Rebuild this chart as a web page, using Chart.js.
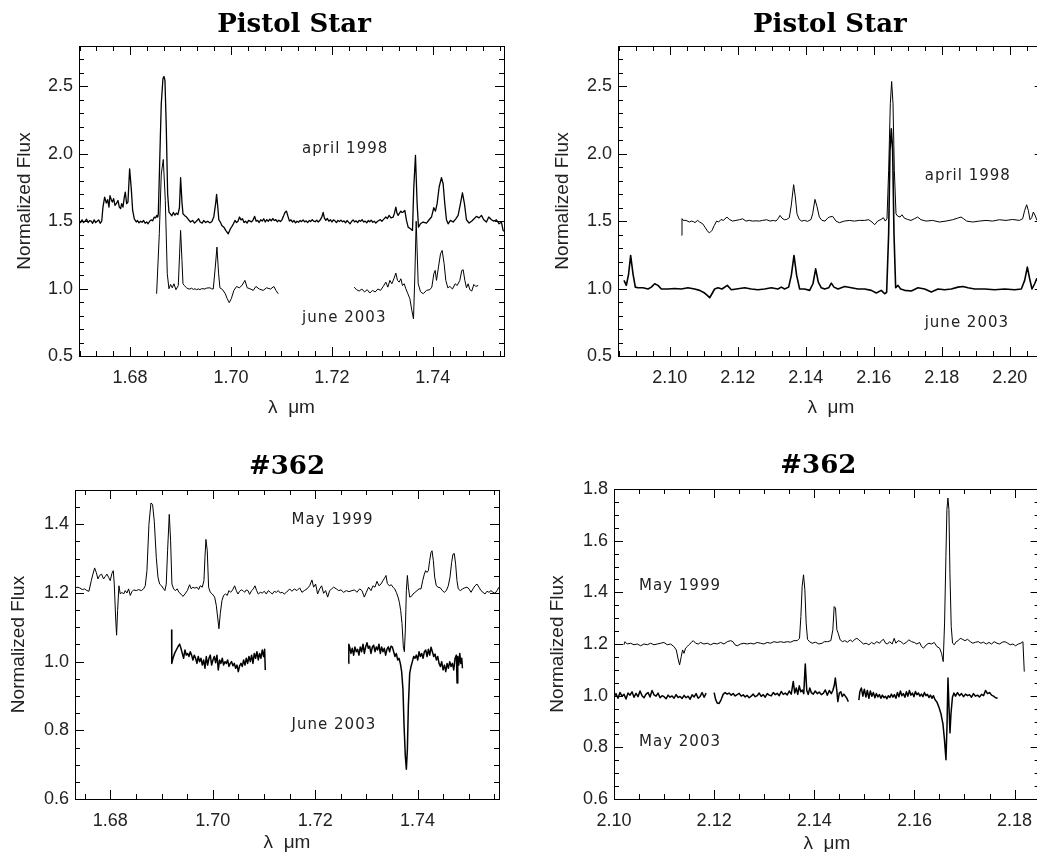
<!DOCTYPE html>
<html>
<head>
<meta charset="utf-8">
<title>Pistol Star and #362 spectra</title>
<script src="https://cdn.jsdelivr.net/npm/chart.js@4.4.1/dist/chart.umd.min.js"></script>
<style>
  html, body { margin: 0; padding: 0; background: #fff; overflow: hidden; }
  body { width: 1037px; height: 852px; position: relative; }
  canvas { position: absolute; }
</style>
</head>
<body>
<canvas id="pistolH" width="518" height="430" style="left:0;top:0"></canvas>
<canvas id="pistolK" width="540" height="430" style="left:518px;top:0"></canvas>
<canvas id="star362H" width="518" height="430" style="left:0;top:430px"></canvas>
<canvas id="star362K" width="540" height="430" style="left:518px;top:430px"></canvas>
<script>
// ---- spectra: [wavelength (micron), normalized flux]; [x, null] breaks a line ----

// Pistol Star, H band, april 1998 (offset by +0.5)
const pistolH_apr1998 = [
  [1.6699,1.500],[1.6702,1.490],[1.6705,1.510],[1.6708,1.490],[1.6711,1.500],[1.6714,1.515],[1.6717,1.490],
  [1.6720,1.505],[1.6723,1.500],[1.6726,1.485],[1.6729,1.510],[1.6732,1.490],[1.6735,1.500],[1.6738,1.510],
  [1.6741,1.485],[1.6744,1.500],[1.67465,1.605],[1.67498,1.679],[1.67531,1.635],[1.67558,1.660],[1.67584,1.605],
  [1.67604,1.690],[1.6763,1.660],[1.6765,1.642],[1.67676,1.667],[1.67703,1.618],[1.67729,1.630],[1.67762,1.654],
  [1.67789,1.605],[1.67815,1.593],[1.67835,1.630],[1.67861,1.605],[1.67888,1.679],[1.67907,1.716],[1.67934,1.630],
  [1.6796,1.642],[1.67993,1.889],[1.68026,1.740],[1.68053,1.580],[1.68086,1.518],[1.68125,1.494],[1.6815,1.505],
  [1.6818,1.488],[1.6821,1.500],[1.6824,1.492],[1.6827,1.505],[1.6830,1.485],[1.6833,1.495],[1.6836,1.481],
  [1.6839,1.500],[1.6842,1.510],[1.6845,1.503],[1.6848,1.530],[1.6851,1.525],[1.6853,1.543],[1.6855,1.530],
  [1.68561,1.555],[1.68581,1.827],[1.68600,2.100],[1.6862,2.371],[1.68653,2.557],[1.68673,2.574],[1.68693,2.545],
  [1.68719,2.198],[1.68746,1.704],[1.68772,1.568],[1.6880,1.555],[1.6883,1.540],[1.6886,1.565],[1.6889,1.545],
  [1.6892,1.560],[1.6895,1.550],[1.6898,1.600],[1.69003,1.823],[1.6903,1.640],[1.6905,1.555],[1.6908,1.543],
  [1.6912,1.531],[1.6916,1.511],[1.6920,1.494],[1.6924,1.506],[1.6928,1.486],[1.6932,1.501],[1.6936,1.518],
  [1.6939,1.494],[1.6943,1.486],[1.6946,1.505],[1.6950,1.490],[1.6954,1.500],[1.6958,1.488],[1.6962,1.496],
  [1.6966,1.531],[1.6970,1.640],[1.69716,1.699],[1.6974,1.605],[1.6976,1.511],[1.6979,1.494],[1.6982,1.469],
  [1.6986,1.456],[1.6990,1.430],[1.69947,1.407],[1.6999,1.444],[1.7002,1.462],[1.7005,1.481],[1.7008,1.506],
  [1.7011,1.490],[1.7014,1.500],[1.7017,1.531],[1.7020,1.510],[1.7023,1.518],[1.7026,1.490],[1.7029,1.500],
  [1.7032,1.486],[1.7035,1.506],[1.7038,1.501],[1.7041,1.495],[1.7044,1.510],[1.7047,1.536],[1.7050,1.500],
  [1.7053,1.506],[1.7056,1.490],[1.7059,1.511],[1.7062,1.501],[1.7065,1.518],[1.7068,1.494],[1.7071,1.512],
  [1.7074,1.499],[1.7077,1.515],[1.7080,1.503],[1.7083,1.520],[1.7086,1.505],[1.7089,1.512],[1.7092,1.496],
  [1.7095,1.508],[1.7098,1.498],[1.7101,1.510],[1.7104,1.536],[1.7107,1.565],[1.7110,1.575],[1.7113,1.536],
  [1.7116,1.501],[1.7119,1.510],[1.7122,1.494],[1.7125,1.505],[1.7128,1.488],[1.7131,1.500],[1.7134,1.492],
  [1.7137,1.506],[1.7140,1.497],[1.7143,1.510],[1.7146,1.495],[1.7149,1.503],[1.7152,1.490],[1.7155,1.505],
  [1.7158,1.498],[1.7161,1.512],[1.7164,1.500],[1.7167,1.496],[1.7170,1.508],[1.7173,1.494],[1.7176,1.505],
  [1.7180,1.530],[1.71828,1.565],[1.7185,1.525],[1.7188,1.506],[1.7191,1.520],[1.7194,1.500],[1.7197,1.512],
  [1.7200,1.494],[1.7203,1.510],[1.7206,1.503],[1.7209,1.490],[1.7212,1.506],[1.7215,1.498],[1.7218,1.508],
  [1.7221,1.496],[1.7224,1.502],[1.7227,1.488],[1.7230,1.505],[1.7233,1.493],[1.7236,1.481],[1.7239,1.498],
  [1.7242,1.510],[1.7245,1.495],[1.7248,1.503],[1.7251,1.490],[1.7254,1.506],[1.7257,1.500],[1.7260,1.512],
  [1.7263,1.494],[1.7266,1.501],[1.7269,1.488],[1.7272,1.505],[1.7275,1.496],[1.7278,1.508],[1.7281,1.492],
  [1.7284,1.500],[1.7287,1.486],[1.7290,1.498],[1.7293,1.505],[1.7296,1.512],[1.7299,1.500],[1.7302,1.512],
  [1.73069,1.531],[1.7310,1.520],[1.73135,1.543],[1.7317,1.525],[1.73214,1.531],[1.7324,1.560],[1.73267,1.605],
  [1.7329,1.560],[1.73313,1.543],[1.7334,1.560],[1.73366,1.575],[1.7339,1.565],[1.73412,1.568],[1.73445,1.580],
  [1.73478,1.506],[1.73511,1.456],[1.73557,1.444],[1.73597,1.432],[1.73623,1.754],[1.73656,1.988],[1.73689,1.630],
  [1.73716,1.456],[1.73755,1.481],[1.73808,1.494],[1.73874,1.486],[1.73927,1.511],[1.73973,1.531],[1.74019,1.600],
  [1.74052,1.575],[1.74085,1.630],[1.74125,1.754],[1.74171,1.823],[1.74204,1.778],[1.74237,1.630],[1.7427,1.511],
  [1.74303,1.481],[1.74349,1.506],[1.74402,1.494],[1.74455,1.518],[1.74501,1.543],[1.74547,1.630],[1.74587,1.711],
  [1.74626,1.630],[1.74666,1.511],[1.74719,1.486],[1.74772,1.501],[1.74818,1.518],[1.74864,1.536],[1.74917,1.525],
  [1.74963,1.543],[1.75009,1.511],[1.75062,1.494],[1.75108,1.531],[1.75161,1.511],[1.75207,1.501],[1.7526,1.511],
  [1.75313,1.481],[1.75359,1.494],[1.75392,1.432],[1.7541,1.425]
];

// Pistol Star, H band, june 2003 (two pieces)
const pistolH_jun2003 = [
  [1.68528,0.962],[1.68581,1.407],[1.6862,1.850],[1.6866,1.958],[1.6870,1.654],[1.68739,1.110],[1.68772,0.999],
  [1.68805,1.031],[1.68838,1.006],[1.68871,1.036],[1.68911,0.992],[1.68957,1.023],[1.68983,1.258],[1.69003,1.432],
  [1.6903,1.209],[1.6905,1.036],[1.69076,1.023],[1.69122,1.006],[1.6915,0.999],[1.69188,0.997],[1.6922,1.003],
  [1.69255,0.994],[1.69287,0.999],[1.6932,0.992],[1.69355,0.998],[1.69386,0.992],[1.6942,1.000],[1.69485,0.997],
  [1.6952,1.004],[1.69584,1.006],[1.6962,0.998],[1.6965,0.997],[1.6969,1.160],[1.69723,1.308],[1.69756,1.110],
  [1.69782,1.006],[1.69835,0.992],[1.69888,0.962],[1.69927,0.925],[1.69967,0.896],[1.70007,0.925],[1.70059,0.987],
  [1.70112,1.016],[1.70165,1.006],[1.70218,1.023],[1.70277,1.061],[1.70323,1.006],[1.70376,0.999],[1.70442,0.987],
  [1.70495,1.016],[1.70561,0.997],[1.7064,0.987],[1.70706,1.006],[1.70785,0.997],[1.70851,1.016],[1.70891,0.987],
  [1.70937,0.962],
  [1.7170,null],
  [1.72442,1.011],[1.72488,0.992],[1.72541,0.982],[1.72594,0.997],[1.72647,0.975],[1.7270,0.992],[1.72752,0.967],
  [1.72805,0.987],[1.72858,0.975],[1.72911,0.997],[1.72964,0.987],[1.73017,1.016],[1.73069,1.048],[1.73109,1.011],
  [1.73149,1.061],[1.73188,1.036],[1.73228,1.073],[1.73267,1.115],[1.7330,1.061],[1.73333,1.048],[1.73366,1.073],
  [1.73399,1.023],[1.73432,1.036],[1.73465,0.999],[1.73505,0.962],[1.73545,0.925],[1.73584,0.838],[1.73617,0.776],
  [1.73644,1.100],[1.7367,1.500],[1.7371,1.036],[1.73756,0.977],[1.73809,0.962],[1.73875,0.987],[1.73941,0.992],
  [1.7398,1.011],[1.7402,1.110],[1.74046,1.135],[1.74073,1.061],[1.74112,1.160],[1.74152,1.258],[1.74185,1.283],
  [1.74224,1.184],[1.74257,1.061],[1.74297,1.006],[1.74337,1.016],[1.7439,0.997],[1.74442,1.036],[1.74482,1.023],
  [1.74535,1.061],[1.74574,1.135],[1.74601,1.140],[1.74634,1.061],[1.74667,1.006],[1.7470,1.036],[1.74733,0.992],
  [1.74772,0.982],[1.74812,1.031],[1.74851,1.016],[1.74898,1.023]
];

// Pistol Star, K band, april 1998 (offset by +0.5)
const pistolK_apr1998 = [
  [2.10352,1.395],[2.10362,1.519],[2.1040,1.506],[2.10479,1.506],[2.10577,1.494],[2.10636,1.501],[2.10695,1.497],
  [2.10744,1.490],[2.10822,1.506],[2.1088,1.494],[2.1097,1.481],[2.11048,1.452],[2.11117,1.424],[2.11175,1.414],
  [2.11244,1.432],[2.11313,1.469],[2.11381,1.501],[2.1144,1.494],[2.11509,1.513],[2.11577,1.506],[2.11685,1.531],
  [2.11754,1.513],[2.11852,1.501],[2.1195,1.506],[2.12048,1.511],[2.12146,1.518],[2.12244,1.501],[2.12342,1.506],
  [2.1244,1.501],[2.12538,1.503],[2.12636,1.501],[2.12734,1.506],[2.12852,1.511],[2.1295,1.501],[2.13048,1.506],
  [2.13126,1.501],[2.13185,1.518],[2.13244,1.543],[2.13303,1.523],[2.13371,1.511],[2.1344,1.513],[2.13518,1.526],
  [2.13577,1.620],[2.13646,1.771],[2.13695,1.680],[2.13744,1.555],[2.13813,1.513],[2.13881,1.501],[2.1396,1.506],
  [2.14058,1.499],[2.14156,1.513],[2.14205,1.555],[2.14273,1.662],[2.14332,1.610],[2.14401,1.531],[2.1448,1.506],
  [2.14568,1.501],[2.14646,1.523],[2.14695,1.531],[2.14793,1.536],[2.14891,1.501],[2.14989,1.489],[2.15136,1.501],
  [2.15283,1.506],[2.1543,1.501],[2.15577,1.506],[2.15724,1.506],[2.15852,1.511],[2.1595,1.494],[2.16028,1.474],
  [2.16117,1.501],[2.16215,1.513],[2.16283,1.526],[2.16342,1.501],[2.16391,1.518],[2.1644,1.877],[2.16489,2.371],
  [2.16528,2.537],[2.16568,2.371],[2.16607,1.877],[2.16656,1.555],[2.16705,1.538],[2.16774,1.531],[2.16833,1.548],
  [2.16901,1.523],[2.16999,1.513],[2.17097,1.506],[2.17195,1.518],[2.17293,1.531],[2.17391,1.511],[2.17538,1.501],
  [2.17734,1.506],[2.1793,1.494],[2.18126,1.501],[2.18322,1.511],[2.18469,1.523],[2.18568,1.531],[2.18646,1.518],
  [2.18734,1.501],[2.18911,1.494],[2.19107,1.501],[2.19303,1.506],[2.19499,1.501],[2.19695,1.511],[2.19891,1.506],
  [2.20087,1.513],[2.20283,1.506],[2.20381,1.518],[2.2044,1.580],[2.20499,1.622],[2.20548,1.580],[2.20597,1.511],
  [2.20646,1.526],[2.20695,1.568],[2.20744,1.545],[2.20803,1.506],[2.2090,1.503],[2.2100,1.508]
];

// Pistol Star, K band, june 2003
const pistolK_jun2003 = [
  [2.08656,1.061],[2.08725,1.024],[2.08793,1.110],[2.08852,1.246],[2.08921,1.110],[2.08989,1.011],[2.09068,1.006],
  [2.09215,1.006],[2.09362,0.997],[2.0946,1.011],[2.09558,1.036],[2.09656,1.024],[2.09754,0.997],[2.0995,0.997],
  [2.10146,1.001],[2.10342,0.997],[2.10538,1.006],[2.10734,0.997],[2.10881,0.987],[2.11028,0.967],[2.11107,0.950],
  [2.11175,0.932],[2.11244,0.962],[2.11322,0.997],[2.1142,1.006],[2.11538,0.997],[2.11695,1.024],[2.11813,0.992],
  [2.1196,0.997],[2.12205,1.006],[2.12401,0.997],[2.12597,0.992],[2.12793,0.997],[2.12989,1.006],[2.13185,0.997],
  [2.13283,1.011],[2.13381,0.997],[2.13499,1.011],[2.13577,1.098],[2.13656,1.246],[2.13734,1.098],[2.13822,0.997],
  [2.13969,0.997],[2.14116,0.987],[2.14214,1.036],[2.14293,1.147],[2.14371,1.048],[2.1446,1.006],[2.14558,0.997],
  [2.14675,1.006],[2.14754,1.041],[2.14832,1.011],[2.1495,0.997],[2.15146,1.016],[2.15342,1.006],[2.15538,0.997],
  [2.15734,0.997],[2.1593,0.987],[2.16077,0.967],[2.16224,0.987],[2.16322,0.962],[2.16381,0.972],[2.1644,1.407],
  [2.16479,2.025],[2.16518,2.186],[2.16558,2.025],[2.16597,1.407],[2.16646,1.006],[2.16715,1.024],[2.16793,0.997],
  [2.16911,0.987],[2.17107,0.982],[2.17303,1.006],[2.17499,0.997],[2.17695,0.975],[2.17891,0.997],[2.18087,0.992],
  [2.18283,0.997],[2.18479,1.011],[2.18626,1.016],[2.18773,1.006],[2.18969,0.997],[2.19264,0.997],[2.19558,0.992],
  [2.19852,0.997],[2.20146,0.992],[2.20342,0.997],[2.2044,1.061],[2.20519,1.160],[2.20587,1.073],[2.20656,0.997],
  [2.20734,1.036],[2.20793,1.073],[2.2090,1.020],[2.2100,1.005]
];

// #362, H band, May 1999 (offset by +0.2)
const star362H_may1999 = [
  [1.67302,1.212],[1.67347,1.217],[1.6740,1.215],[1.67452,1.210],[1.67497,1.212],[1.67543,1.207],[1.67582,1.205],
  [1.67628,1.236],[1.6766,1.255],[1.67693,1.273],[1.67725,1.260],[1.67758,1.241],[1.6779,1.251],[1.67829,1.255],
  [1.67868,1.241],[1.67901,1.248],[1.67933,1.255],[1.67966,1.246],[1.67998,1.236],[1.68031,1.257],[1.68057,1.265],
  [1.68077,1.226],[1.68103,1.130],[1.68122,1.077],[1.68142,1.149],[1.68168,1.221],[1.68194,1.197],[1.68226,1.202],
  [1.68259,1.197],[1.68291,1.207],[1.68324,1.200],[1.68357,1.212],[1.68389,1.193],[1.68422,1.204],[1.68454,1.209],
  [1.68506,1.207],[1.68552,1.210],[1.68604,1.207],[1.68649,1.212],[1.68682,1.221],[1.68715,1.265],[1.68754,1.400],
  [1.68793,1.462],[1.68825,1.458],[1.68858,1.409],[1.68897,1.304],[1.6893,1.246],[1.68962,1.226],[1.69001,1.221],
  [1.6904,1.212],[1.69066,1.207],[1.69092,1.226],[1.69118,1.323],[1.69151,1.429],[1.69177,1.352],[1.69203,1.226],
  [1.69236,1.212],[1.69268,1.207],[1.69307,1.212],[1.6934,1.202],[1.69385,1.196],[1.69418,1.190],[1.69457,1.197],
  [1.69503,1.207],[1.69548,1.224],[1.69581,1.212],[1.69613,1.217],[1.69652,1.214],[1.69691,1.217],[1.69724,1.210],
  [1.69756,1.221],[1.69795,1.217],[1.69828,1.236],[1.69848,1.304],[1.69867,1.356],[1.69893,1.323],[1.69919,1.217],
  [1.69952,1.202],[1.69991,1.197],[1.70037,1.188],[1.70069,1.164],[1.70095,1.130],[1.70121,1.096],[1.70147,1.140],
  [1.7018,1.178],[1.70212,1.193],[1.70251,1.197],[1.70284,1.193],[1.70316,1.207],[1.70349,1.202],[1.70388,1.209],
  [1.70427,1.221],[1.7046,1.207],[1.70492,1.197],[1.70525,1.205],[1.70558,1.209],[1.7059,1.207],[1.70623,1.202],
  [1.70655,1.209],[1.70688,1.207],[1.7072,1.196],[1.7076,1.207],[1.70792,1.212],[1.70825,1.221],[1.70857,1.207],
  [1.7089,1.197],[1.70929,1.202],[1.70968,1.200],[1.71007,1.205],[1.71046,1.197],[1.71085,1.207],[1.71124,1.202],
  [1.71163,1.197],[1.71202,1.205],[1.71241,1.202],[1.7128,1.207],[1.71319,1.200],[1.71358,1.202],[1.71397,1.197],
  [1.71436,1.202],[1.71475,1.207],[1.71501,1.212],[1.71547,1.205],[1.71592,1.212],[1.71644,1.207],[1.71697,1.215],
  [1.71742,1.202],[1.71788,1.207],[1.7184,1.212],[1.71892,1.221],[1.71937,1.238],[1.7197,1.217],[1.72009,1.226],
  [1.72048,1.197],[1.72087,1.212],[1.72126,1.221],[1.72165,1.199],[1.72204,1.207],[1.72244,1.188],[1.72283,1.207],
  [1.72322,1.212],[1.72361,1.217],[1.72413,1.212],[1.72458,1.207],[1.72504,1.209],[1.72556,1.202],[1.72608,1.207],
  [1.7266,1.204],[1.72719,1.207],[1.72771,1.209],[1.72816,1.202],[1.72868,1.212],[1.72914,1.207],[1.7296,1.188],
  [1.72999,1.202],[1.73044,1.217],[1.7309,1.207],[1.73129,1.221],[1.73168,1.217],[1.73207,1.234],[1.73246,1.221],
  [1.73285,1.226],[1.73324,1.236],[1.73357,1.244],[1.73383,1.251],[1.73409,1.228],[1.73448,1.221],[1.73487,1.224],
  [1.7352,1.217],[1.73553,1.212],[1.73585,1.202],[1.73618,1.188],[1.73644,1.173],[1.7367,1.149],[1.73696,1.111],
  [1.73722,1.043],[1.73742,1.029],[1.73761,1.092],[1.73781,1.207],[1.73801,1.251],[1.7382,1.217],[1.73846,1.188],
  [1.73879,1.190],[1.73911,1.197],[1.7395,1.202],[1.73989,1.207],[1.74028,1.212],[1.74067,1.212],[1.7410,1.236],
  [1.74132,1.255],[1.74158,1.265],[1.74184,1.260],[1.7421,1.265],[1.74236,1.294],[1.74262,1.318],[1.74282,1.323],
  [1.74308,1.294],[1.74334,1.246],[1.74366,1.221],[1.74399,1.217],[1.74444,1.215],[1.74483,1.207],[1.74522,1.202],
  [1.74561,1.207],[1.7460,1.221],[1.74633,1.246],[1.74665,1.289],[1.74691,1.313],[1.74717,1.315],[1.74743,1.284],
  [1.74769,1.236],[1.74795,1.212],[1.74834,1.207],[1.7488,1.212],[1.74919,1.215],[1.74965,1.217],[1.75004,1.212],
  [1.75043,1.202],[1.75082,1.212],[1.75121,1.221],[1.7516,1.226],[1.75199,1.217],[1.75238,1.207],[1.75277,1.202],
  [1.75316,1.197],[1.75355,1.205],[1.75395,1.202],[1.75434,1.207],[1.75473,1.202],[1.75512,1.199],[1.75551,1.207],
  [1.7559,1.217]
];

// #362, H band, June 2003 (two pieces)
const star362H_jun2003 = [
  [1.69197,1.092],[1.6920,0.995],[1.69223,1.010],[1.69255,1.024],[1.69288,1.034],[1.69327,1.045],[1.69353,1.051],
  [1.69379,1.039],[1.69405,1.024],[1.69431,1.010],[1.69457,1.034],[1.69483,1.019],[1.69509,1.024],[1.69535,1.015],
  [1.69561,1.029],[1.69587,1.019],[1.69613,1.005],[1.69639,1.019],[1.69665,1.010],[1.69691,0.995],[1.69717,1.015],
  [1.69743,1.000],[1.6977,1.010],[1.69796,0.990],[1.69822,1.005],[1.69848,0.981],[1.69874,1.015],[1.6990,0.990],
  [1.69926,1.010],[1.69952,1.019],[1.69978,0.990],[1.70004,1.005],[1.7003,1.015],[1.70056,0.997],[1.70082,1.019],
  [1.70108,0.976],[1.70134,1.005],[1.7016,0.995],[1.70186,1.010],[1.70212,0.990],[1.70238,1.000],[1.70264,0.995],
  [1.7029,1.005],[1.70316,0.986],[1.70342,0.995],[1.70368,1.000],[1.70395,0.988],[1.70421,0.995],[1.70447,0.981],
  [1.70473,0.990],[1.70499,0.971],[1.70525,0.988],[1.70551,0.995],[1.70577,0.986],[1.70603,1.005],[1.70629,0.990],
  [1.70655,1.010],[1.70681,0.995],[1.70707,1.015],[1.70733,1.000],[1.70759,1.019],[1.70785,0.995],[1.70811,1.024],
  [1.70837,1.010],[1.70863,1.029],[1.70889,1.005],[1.70915,1.024],[1.70941,1.010],[1.70967,1.034],[1.70993,1.015],
  [1.71013,1.036],[1.71026,0.976],
  [1.7180,null],
  [1.72654,0.995],[1.72657,1.051],[1.72673,1.043],[1.72699,1.024],[1.72725,1.039],[1.72751,1.019],[1.72777,1.043],
  [1.72803,1.029],[1.72829,1.036],[1.72855,1.019],[1.72881,1.043],[1.72908,1.029],[1.72934,1.051],[1.7296,1.024],
  [1.72986,1.043],[1.73012,1.055],[1.73038,1.039],[1.73064,1.045],[1.7309,1.024],[1.73116,1.042],[1.73142,1.048],
  [1.73168,1.029],[1.73194,1.043],[1.7322,1.034],[1.73246,1.051],[1.73272,1.024],[1.73298,1.043],[1.73324,1.029],
  [1.7335,1.039],[1.73376,1.019],[1.73402,1.036],[1.73428,1.043],[1.73454,1.029],[1.7348,1.045],[1.73507,1.043],
  [1.73533,1.029],[1.73559,1.015],[1.73585,1.024],[1.73611,1.005],[1.73637,1.010],[1.73663,0.995],[1.73689,0.971],
  [1.73715,0.918],[1.73734,0.822],[1.7376,0.726],[1.73781,0.687],[1.73801,0.745],[1.7382,0.870],[1.73846,0.966],
  [1.73872,0.986],[1.73898,1.000],[1.73924,1.015],[1.7395,1.010],[1.73976,1.019],[1.74003,1.005],[1.74029,1.029],
  [1.74055,1.015],[1.74081,1.024],[1.74107,1.010],[1.74133,1.029],[1.74159,1.034],[1.74185,1.015],[1.74211,1.036],
  [1.74237,1.019],[1.74263,1.042],[1.74289,1.029],[1.74315,1.015],[1.74341,1.022],[1.74367,1.005],[1.74393,1.015],
  [1.74419,0.995],[1.74445,0.986],[1.74471,1.000],[1.74498,0.976],[1.74524,0.990],[1.7455,0.971],[1.74576,0.995],
  [1.74602,0.981],[1.74628,1.000],[1.74654,0.986],[1.7468,0.995],[1.74706,0.976],[1.74732,1.010],[1.74758,1.019],
  [1.74771,0.938],[1.74785,1.015],[1.74804,0.990],[1.74824,1.024],[1.74843,0.995],[1.74863,1.010],[1.74876,0.981]
];

// #362, K band, May 1999 (offset by +0.2)
const star362K_may1999 = [
  [2.10199,1.197],[2.10219,1.209],[2.10265,1.200],[2.10332,1.203],[2.10399,1.197],[2.10465,1.200],[2.10532,1.193],
  [2.10598,1.200],[2.10665,1.197],[2.10731,1.203],[2.10798,1.197],[2.10864,1.200],[2.10931,1.203],[2.10997,1.206],
  [2.11064,1.197],[2.1113,1.200],[2.11197,1.190],[2.11244,1.177],[2.11277,1.145],[2.1131,1.119],[2.11343,1.151],
  [2.1137,1.177],[2.11397,1.164],[2.1143,1.184],[2.11463,1.190],[2.11496,1.197],[2.11543,1.206],[2.11583,1.213],
  [2.1163,1.203],[2.11683,1.200],[2.1173,1.206],[2.11796,1.200],[2.11863,1.203],[2.11929,1.197],[2.11996,1.203],
  [2.12062,1.200],[2.12129,1.206],[2.12196,1.200],[2.12262,1.209],[2.12329,1.213],[2.12375,1.209],[2.12415,1.197],
  [2.12461,1.193],[2.12528,1.200],[2.12594,1.203],[2.12661,1.200],[2.12727,1.203],[2.12794,1.200],[2.1286,1.206],
  [2.12927,1.203],[2.12993,1.200],[2.1306,1.206],[2.13126,1.203],[2.13193,1.209],[2.1326,1.206],[2.13326,1.209],
  [2.13393,1.206],[2.13459,1.209],[2.13526,1.207],[2.13592,1.213],[2.13659,1.213],[2.13705,1.222],[2.13732,1.306],
  [2.13758,1.423],[2.13785,1.468],[2.13812,1.410],[2.13838,1.281],[2.13865,1.218],[2.13905,1.209],[2.13958,1.203],
  [2.14024,1.207],[2.14091,1.200],[2.14157,1.203],[2.14198,1.209],[2.14265,1.209],[2.14331,1.213],[2.14371,1.255],
  [2.14397,1.345],[2.14424,1.339],[2.14451,1.255],[2.14477,1.242],[2.14517,1.216],[2.14564,1.209],[2.1461,1.213],
  [2.14663,1.207],[2.14717,1.216],[2.14763,1.209],[2.1481,1.218],[2.1485,1.222],[2.1489,1.216],[2.1493,1.209],
  [2.14983,1.200],[2.15036,1.203],[2.1509,1.197],[2.15143,1.206],[2.15196,1.200],[2.15249,1.209],[2.15303,1.203],
  [2.15343,1.213],[2.15383,1.218],[2.15423,1.203],[2.15463,1.200],[2.15503,1.209],[2.15556,1.200],[2.15596,1.222],
  [2.1563,1.203],[2.15676,1.213],[2.15729,1.209],[2.15783,1.200],[2.15836,1.206],[2.15889,1.216],[2.15943,1.209],
  [2.15996,1.206],[2.16049,1.200],[2.16103,1.206],[2.16143,1.190],[2.16183,1.184],[2.16236,1.197],[2.16289,1.203],
  [2.16342,1.200],[2.16396,1.206],[2.16449,1.190],[2.16502,1.184],[2.16542,1.164],[2.16575,1.132],[2.16602,1.281],
  [2.16629,1.539],[2.16649,1.720],[2.16669,1.765],[2.16689,1.720],[2.16709,1.474],[2.16735,1.268],[2.16762,1.203],
  [2.16795,1.197],[2.16835,1.209],[2.16875,1.213],[2.16915,1.222],[2.16962,1.218],[2.17009,1.213],[2.17062,1.218],
  [2.17115,1.209],[2.17168,1.203],[2.17222,1.207],[2.17275,1.209],[2.17328,1.203],[2.17381,1.207],[2.17435,1.200],
  [2.17488,1.206],[2.17541,1.200],[2.17594,1.209],[2.17648,1.203],[2.17701,1.200],[2.17754,1.207],[2.17808,1.209],
  [2.17861,1.203],[2.17914,1.197],[2.17967,1.200],[2.18021,1.193],[2.18074,1.200],[2.18127,1.203],[2.18167,1.209],
  [2.18194,1.093]
];

// #362, K band, May 2003 (three pieces)
const star362K_may2003 = [
  [2.1000,0.995],[2.1004,1.008],[2.1008,0.990],[2.1012,1.012],[2.1016,0.998],[2.1020,1.005],[2.1024,0.987],
  [2.1028,1.010],[2.1032,1.002],[2.1036,1.015],[2.1040,0.994],[2.1044,1.009],[2.1048,0.996],[2.1052,1.018],
  [2.1056,1.000],[2.1060,0.992],[2.1064,1.006],[2.1068,1.012],[2.1072,0.995],[2.1076,1.020],[2.1080,1.003],
  [2.1084,0.998],[2.1088,1.010],[2.1092,0.992],[2.1096,1.000],[2.1100,0.996],[2.1104,0.988],[2.1108,1.002],
  [2.1112,0.994],[2.1116,0.999],[2.1120,0.990],[2.1124,1.004],[2.1128,0.993],[2.1132,0.997],[2.1136,0.989],
  [2.1140,1.001],[2.1144,0.992],[2.1148,0.998],[2.1152,0.986],[2.1156,1.003],[2.1160,0.995],[2.1164,1.008],
  [2.1168,0.990],[2.1172,0.997],[2.1176,1.012],[2.1180,0.994],[2.1184,1.010],
  [2.1192,null],
  [2.1200,1.012],[2.1203,0.985],[2.1206,0.972],[2.1210,0.970],[2.1214,0.985],[2.1218,1.005],[2.1222,1.012],
  [2.1226,1.006],[2.1230,1.010],[2.1234,1.002],[2.1238,1.008],[2.1242,0.999],[2.1246,1.004],[2.1250,1.009],
  [2.1254,0.998],[2.1258,1.003],[2.1262,0.995],[2.1266,1.001],[2.1270,0.992],[2.1274,0.998],[2.1278,1.006],
  [2.1282,0.996],[2.1286,1.000],[2.1290,1.010],[2.1294,0.997],[2.1298,1.004],[2.1302,0.994],[2.1306,1.008],
  [2.1310,1.002],[2.1314,0.999],[2.1318,1.012],[2.1322,1.004],[2.1326,1.009],[2.1330,1.000],[2.1334,1.016],
  [2.1338,1.005],[2.1342,1.010],[2.1346,1.003],[2.1350,1.018],[2.1354,1.006],[2.1358,1.055],[2.1361,1.010],
  [2.1364,1.030],[2.1367,1.005],[2.1370,1.038],[2.1373,1.015],[2.1376,1.022],[2.1379,1.008],[2.1382,1.123],
  [2.1385,1.020],[2.1388,1.005],[2.1391,1.030],[2.1394,1.012],[2.1398,1.006],[2.1402,1.018],[2.1406,1.008],
  [2.1410,1.014],[2.1414,1.004],[2.1418,1.009],[2.1422,1.022],[2.1426,1.002],[2.1430,1.020],[2.1434,1.008],
  [2.1437,1.020],[2.1440,1.040],[2.1442,1.068],[2.1445,1.020],[2.1447,0.977],[2.1450,1.010],[2.1453,1.015],
  [2.1456,0.997],[2.1459,1.006],[2.1462,0.998],[2.1465,0.990],[2.1468,0.977],
  [2.1478,null],
  [2.1489,0.983],[2.1491,1.015],[2.1494,1.030],[2.1497,0.998],[2.1500,1.025],[2.1503,0.995],[2.1506,1.020],
  [2.1509,0.990],[2.1512,1.018],[2.1515,0.998],[2.1518,1.012],[2.1521,0.992],[2.1524,1.008],[2.1527,0.995],
  [2.1530,1.004],[2.1533,0.990],[2.1536,1.002],[2.1539,0.992],[2.1542,0.998],[2.1545,0.988],[2.1548,1.000],
  [2.1551,0.993],[2.1554,1.006],[2.1557,0.994],[2.1560,1.004],[2.1563,0.990],[2.1566,1.012],[2.1569,0.996],
  [2.1572,1.018],[2.1575,1.000],[2.1578,1.008],[2.1581,0.994],[2.1584,1.015],[2.1587,0.998],[2.1590,1.020],
  [2.1593,1.002],[2.1596,1.010],[2.1599,0.996],[2.1602,1.016],[2.1605,1.004],[2.1608,1.010],[2.1611,0.998],
  [2.1614,1.006],[2.1617,0.996],[2.1620,1.012],[2.1623,1.000],[2.1626,1.005],[2.1629,0.993],[2.1632,1.002],
  [2.1635,0.990],[2.1638,1.000],[2.1641,0.985],[2.1645,0.975],[2.1649,0.955],[2.1653,0.930],[2.1657,0.890],
  [2.1660,0.830],[2.1663,0.752],[2.1665,0.880],[2.1667,1.068],[2.1669,0.960],[2.1671,0.856],[2.1673,0.930],
  [2.1676,0.995],[2.1679,1.010],[2.1682,0.998],[2.1686,1.012],[2.1690,1.000],[2.1694,1.008],[2.1698,0.996],
  [2.1702,1.006],[2.1706,1.000],[2.1710,1.004],[2.1714,0.994],[2.1718,1.008],[2.1722,0.998],[2.1726,1.002],
  [2.1730,0.995],[2.1734,1.005],[2.1738,1.000],[2.1742,1.020],[2.1746,1.008],[2.1750,1.012],[2.1754,1.002],
  [2.1758,0.998],[2.1762,0.992],[2.1766,0.990]
];

// ---- axis tick labels ----
const hBandTicks = [1.68, 1.70, 1.72, 1.74];
const pistolKTicks = [2.10, 2.12, 2.14, 2.16, 2.18, 2.20];
const star362KTicks = [2.10, 2.12, 2.14, 2.16, 2.18];
const pistolFluxTicks = [0.5, 1.0, 1.5, 2.0, 2.5];
const star362HFluxTicks = [0.6, 0.8, 1.0, 1.2, 1.4];
const star362KFluxTicks = [0.6, 0.8, 1.0, 1.2, 1.4, 1.6, 1.8];

const TEXT = '#222';

// frame, inward tick marks on all four sides, panel title and epoch labels
function decor(p) {
  return {
    id: 'decor',
    afterDraw(chart) {
      const { ctx, chartArea: a, scales: { x, y } } = chart;
      ctx.save();
      ctx.strokeStyle = '#000';
      ctx.lineWidth = 1;
      ctx.strokeRect(a.left + 0.5, a.top + 0.5, a.right - a.left, a.bottom - a.top);

      ctx.beginPath();
      const xStep = p.xMajor / p.xMinor;
      for (let k = Math.ceil(x.min / xStep - 1e-6); k * xStep <= x.max + 1e-9; k++) {
        const px = Math.round(x.getPixelForValue(k * xStep)) + 0.5;
        const len = k % p.xMinor === 0 ? 9 : 5;
        ctx.moveTo(px, a.bottom); ctx.lineTo(px, a.bottom - len);
        ctx.moveTo(px, a.top); ctx.lineTo(px, a.top + len);
      }
      const yStep = p.yMajor / p.yMinor;
      for (let k = Math.ceil(y.min / yStep - 1e-6); k * yStep <= y.max + 1e-9; k++) {
        const py = Math.round(y.getPixelForValue(k * yStep)) + 0.5;
        const len = k % p.yMinor === 0 ? 9 : 5;
        ctx.moveTo(a.left, py); ctx.lineTo(a.left + len, py);
        ctx.moveTo(a.right, py); ctx.lineTo(a.right - len, py);
      }
      ctx.stroke();

      ctx.fillStyle = '#000';
      ctx.font = 'bold 26px "DejaVu Serif"';
      ctx.textAlign = 'center';
      ctx.textBaseline = 'alphabetic';
      ctx.fillText(p.title, (a.left + a.right) / 2 + p.titleDx, p.titleY);

      ctx.fillStyle = TEXT;
      ctx.font = '15px "DejaVu Sans"';
      ctx.letterSpacing = '1px';
      ctx.textAlign = 'left';
      ctx.textBaseline = 'middle';
      p.notes.forEach(n => ctx.fillText(n.text, x.getPixelForValue(n.x), y.getPixelForValue(n.y)));
      ctx.restore();
    }
  };
}

function spectrumPanel(p) {
  const toXY = pts => pts.map(([x, y]) => ({ x, y }));
  new Chart(document.getElementById(p.id), {
    type: 'line',
    data: {
      datasets: p.series.map(s => ({
        label: s.label,
        data: toXY(s.points),
        borderColor: '#000',
        borderWidth: s.width,
        borderJoinStyle: 'round',
        pointRadius: 0,
        tension: 0,
        fill: false,
        spanGaps: false
      }))
    },
    options: {
      responsive: false,
      animation: false,
      events: [],
      layout: { autoPadding: false, padding: p.padding },
      plugins: { legend: { display: false }, tooltip: { enabled: false } },
      scales: {
        x: {
          type: 'linear',
          min: p.xRange[0], max: p.xRange[1],
          afterBuildTicks: ax => { ax.ticks = p.xTicks.map(v => ({ value: v })); },
          afterFit: ax => { ax.height = p.xAxisHeight; },
          grid: { display: false, drawTicks: false },
          border: { display: false },
          ticks: {
            padding: 11, color: TEXT, maxRotation: 0,
            font: { family: 'Liberation Sans', size: 18 },
            callback: v => v.toFixed(2)
          },
          title: {
            display: true, text: 'λ  μm', color: TEXT,
            font: { family: 'Liberation Sans', size: 19 },
            padding: { top: 0, bottom: p.xTitlePad }
          }
        },
        y: {
          type: 'linear',
          min: p.yRange[0], max: p.yRange[1],
          afterBuildTicks: ax => { ax.ticks = p.yTicks.map(v => ({ value: v })); },
          afterFit: ax => { ax.width = p.yAxisWidth; },
          grid: { display: false, drawTicks: false },
          border: { display: false },
          ticks: {
            padding: 6, color: TEXT,
            font: { family: 'Liberation Sans', size: 18 },
            callback: v => v.toFixed(1)
          },
          title: {
            display: true, text: 'Normalized Flux', color: TEXT,
            font: { family: 'Liberation Sans', size: 19 },
            padding: { top: p.yTitlePad, bottom: 0 }
          }
        }
      }
    },
    plugins: [decor(p)]
  });
}

spectrumPanel({
  id: 'pistolH', title: 'Pistol Star', titleY: 32, titleDx: 2.5,
  padding: { top: 46, right: 14, bottom: 0, left: 0 },
  yAxisWidth: 79, xAxisHeight: 74, xTitlePad: 10.6, yTitlePad: 13.6,
  xRange: [1.6699, 1.7541], yRange: [0.5, 2.8],
  xTicks: hBandTicks, yTicks: pistolFluxTicks,
  xMajor: 0.02, xMinor: 6, yMajor: 0.5, yMinor: 5,
  series: [
    { label: 'april 1998', points: pistolH_apr1998, width: 1.3 },
    { label: 'june 2003', points: pistolH_jun2003, width: 1.0 }
  ],
  notes: [
    { text: 'april 1998', x: 1.7141, y: 2.033 },
    { text: 'june 2003', x: 1.7141, y: 0.779 }
  ]
});

spectrumPanel({
  id: 'pistolK', title: 'Pistol Star', titleY: 32, titleDx: -1,
  padding: { top: 46, right: 14.3, bottom: 0, left: 0 },
  yAxisWidth: 100, xAxisHeight: 74, xTitlePad: 10.6, yTitlePad: 33.6,
  xRange: [2.0848, 2.2100], yRange: [0.5, 2.8],
  xTicks: pistolKTicks, yTicks: pistolFluxTicks,
  xMajor: 0.02, xMinor: 4, yMajor: 0.5, yMinor: 5,
  series: [
    { label: 'april 1998', points: pistolK_apr1998, width: 1.0 },
    { label: 'june 2003', points: pistolK_jun2003, width: 1.6 }
  ],
  notes: [
    { text: 'april 1998', x: 2.175, y: 1.835 },
    { text: 'june 2003', x: 2.175, y: 0.742 }
  ]
});

spectrumPanel({
  id: 'star362H', title: '#362', titleY: 44, titleDx: 0,
  padding: { top: 60, right: 19, bottom: 0, left: 0 },
  yAxisWidth: 75, xAxisHeight: 61, xTitlePad: 5.6, yTitlePad: 7.4,
  xRange: [1.6731, 1.7559], yRange: [0.6, 1.5],
  xTicks: hBandTicks, yTicks: star362HFluxTicks,
  xMajor: 0.02, xMinor: 4, yMajor: 0.2, yMinor: 4,
  series: [
    { label: 'May 1999', points: star362H_may1999, width: 1.0 },
    { label: 'June 2003', points: star362H_jun2003, width: 1.5 }
  ],
  notes: [
    { text: 'May 1999', x: 1.7154, y: 1.412 },
    { text: 'June 2003', x: 1.7154, y: 0.815 }
  ]
});

spectrumPanel({
  id: 'star362K', title: '#362', titleY: 43.3, titleDx: -8.5,
  padding: { top: 59, right: 18.4, bottom: 0, left: 0 },
  yAxisWidth: 96, xAxisHeight: 61, xTitlePad: 5.3, yTitlePad: 28.6,
  xRange: [2.1000, 2.1850], yRange: [0.6, 1.8],
  xTicks: star362KTicks, yTicks: star362KFluxTicks,
  xMajor: 0.02, xMinor: 4, yMajor: 0.2, yMinor: 4,
  series: [
    { label: 'May 1999', points: star362K_may1999, width: 1.0 },
    { label: 'May 2003', points: star362K_may2003, width: 1.5 }
  ],
  notes: [
    { text: 'May 1999', x: 2.105, y: 1.4225 },
    { text: 'May 2003', x: 2.105, y: 0.822 }
  ]
});
</script>
</body>
</html>
